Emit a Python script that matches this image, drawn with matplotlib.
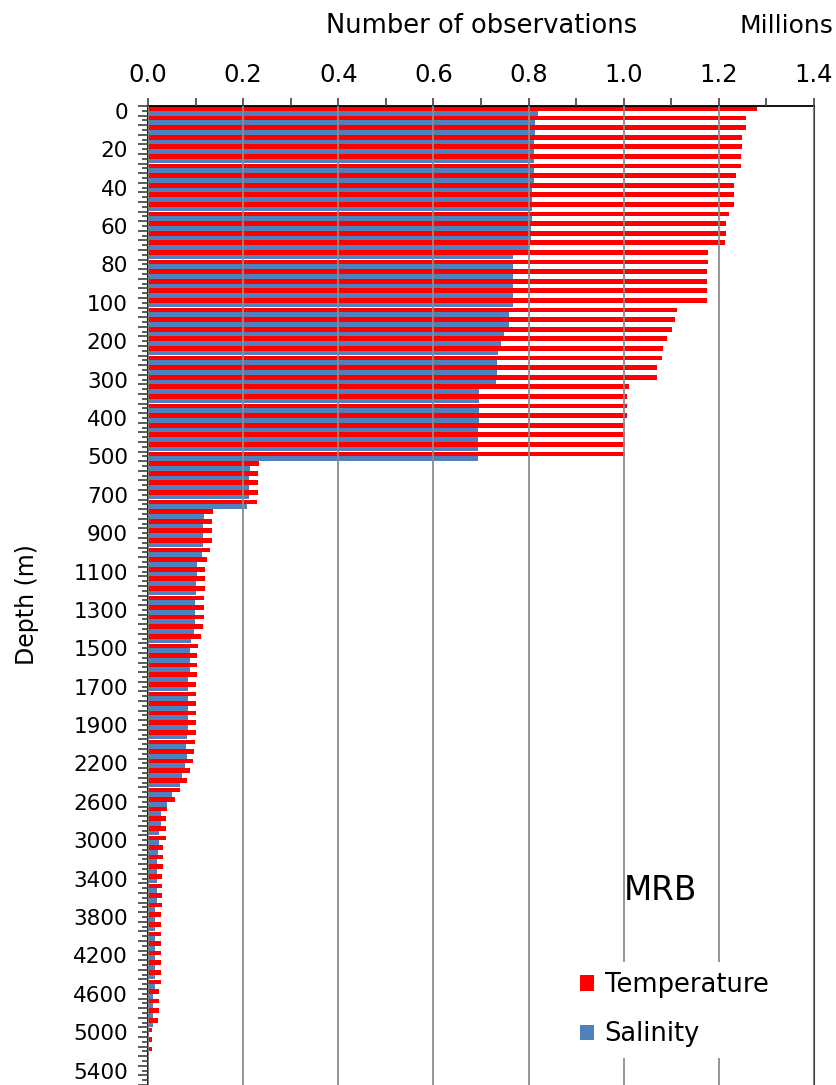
#!/usr/bin/env python

import matplotlib
matplotlib.use('Agg')

import numpy as np
import matplotlib.pyplot as plt
from matplotlib.patches import Patch
from matplotlib.ticker import MultipleLocator, FixedLocator

# standard depth levels (m), one bar pair per level
depths = [0, 5, 10, 15, 20, 25, 30, 35, 40, 45, 50, 55, 60, 65, 70, 75, 80, 85, 90, 95, 100,
          125, 150, 175, 200, 225, 250, 275, 300, 325, 350, 375, 400, 425, 450, 475, 500,
          550, 600, 650, 700, 750, 800, 850, 900, 950, 1000, 1050, 1100, 1150, 1200, 1250,
          1300, 1350, 1400, 1450, 1500, 1550, 1600, 1650, 1700, 1750, 1800, 1850, 1900, 1950, 2000,
          2100, 2200, 2300, 2400, 2500, 2600, 2700, 2800, 2900, 3000, 3100, 3200, 3300, 3400,
          3500, 3600, 3700, 3800, 3900, 4000, 4100, 4200, 4300, 4400, 4500, 4600, 4700, 4800,
          4900, 5000, 5100, 5200, 5300, 5400, 5500]

# number of observations (millions)
temperature = [1.281, 1.257, 1.257, 1.249, 1.249, 1.246, 1.246, 1.235, 1.232, 1.232, 1.232,
               1.222, 1.216, 1.216, 1.213, 1.178, 1.178, 1.175, 1.175, 1.175, 1.175,
               1.111, 1.108, 1.102, 1.092, 1.083, 1.081, 1.070, 1.070, 1.011, 1.006, 1.006,
               1.006, 1.003, 1.003, 1.003, 1.003,
               0.234, 0.232, 0.232, 0.232, 0.229, 0.137, 0.134, 0.134, 0.134, 0.131, 0.123,
               0.120, 0.120, 0.120, 0.118, 0.118, 0.118, 0.115, 0.112, 0.106, 0.104, 0.104,
               0.104, 0.101, 0.101, 0.101, 0.101, 0.101, 0.101, 0.098,
               0.097, 0.094, 0.088, 0.083, 0.067, 0.056, 0.040, 0.037, 0.037, 0.037, 0.032,
               0.032, 0.032, 0.029, 0.029, 0.029, 0.029, 0.027, 0.027, 0.027, 0.027, 0.027,
               0.027, 0.027, 0.027, 0.024, 0.024, 0.024, 0.021, 0.008, 0.008, 0.008,
               0.0, 0.0, 0.0]

salinity = [0.819, 0.814, 0.814, 0.811, 0.811, 0.811, 0.811, 0.811, 0.808, 0.808, 0.808,
            0.808, 0.806, 0.806, 0.803, 0.768, 0.768, 0.768, 0.768, 0.768, 0.768,
            0.758, 0.758, 0.749, 0.741, 0.736, 0.733, 0.733, 0.731, 0.695, 0.695, 0.695,
            0.695, 0.693, 0.693, 0.693, 0.693,
            0.215, 0.212, 0.212, 0.212, 0.209, 0.118, 0.115, 0.115, 0.115, 0.113, 0.104,
            0.104, 0.101, 0.101, 0.099, 0.099, 0.099, 0.096, 0.090, 0.088, 0.088, 0.088,
            0.085, 0.085, 0.085, 0.085, 0.085, 0.085, 0.082, 0.080,
            0.081, 0.078, 0.072, 0.067, 0.051, 0.040, 0.027, 0.027, 0.024, 0.024, 0.021,
            0.018, 0.018, 0.018, 0.018, 0.018, 0.015, 0.015, 0.015, 0.015, 0.015, 0.015,
            0.015, 0.015, 0.015, 0.011, 0.011, 0.011, 0.011, 0.0, 0.0, 0.0,
            0.0, 0.0, 0.0]

label_every = 4


def main():
  plt.rcParams['font.family'] = 'DejaVu Sans'

  fig = plt.figure(figsize=(8.37, 10.85), dpi=100)
  ax = fig.add_axes([148/837, 0.0, 666/837, 979/1085])

  y = np.arange(len(depths))

  # red above blue inside each depth slot
  ax.barh(y - 0.245, temperature, height=0.49, color='#FF0000', label='Temperature', zorder=1)
  ax.barh(y + 0.245, salinity, height=0.49, color='#4F81BD', label='Salinity', zorder=1)

  ax.set_xlim(0, 1.4)
  ax.set_ylim(len(depths) - 0.5, -0.5)

  # x axis on top
  ax.xaxis.tick_top()
  ax.xaxis.set_major_locator(MultipleLocator(0.2))
  ax.xaxis.set_minor_locator(MultipleLocator(0.1))
  ax.xaxis.set_major_formatter(matplotlib.ticker.FormatStrFormatter('%.1f'))
  ax.tick_params(axis='x', which='both', top=True, bottom=False, length=6, width=1.2,
                 color='#404040', labelsize=17.5, pad=8)

  # y axis: a short tick per level, long ticks between levels, label every 4th level
  ax.set_yticks(y)
  ax.set_yticklabels([str(d) if i % label_every == 0 else '' for i, d in enumerate(depths)])
  ax.yaxis.set_minor_locator(FixedLocator(np.arange(-0.5, len(depths), 1.0)))
  ax.tick_params(axis='y', which='major', length=4, width=1.2, color='#404040',
                 labelsize=15.5, pad=10.5)
  ax.tick_params(axis='y', which='minor', length=7, width=1.2, color='#404040')

  # gridlines drawn over the bars
  ax.set_axisbelow(False)
  ax.xaxis.grid(True, which='major', color='#8C8C8C', lw=1.3)
  ax.yaxis.grid(False)

  ax.spines['bottom'].set_visible(False)
  ax.spines['left'].set_color('black')
  ax.spines['left'].set_linewidth(1.3)
  ax.spines['top'].set_color('black')
  ax.spines['top'].set_linewidth(1.3)
  ax.spines['right'].set_color('#404040')
  ax.spines['right'].set_linewidth(1.5)

  fig.text(482/837, 1 - 33/1085, 'Number of observations', ha='center', va='baseline',
           fontsize=18.5)
  fig.text(833/837, 1 - 33/1085, 'Millions', ha='right', va='baseline', fontsize=18)
  fig.text(27/837, 1 - 605/1085, 'Depth (m)', rotation=90, ha='center', va='center',
           fontsize=17)
  fig.text(624/837, 1 - 900/1085, 'MRB', ha='left', va='baseline', fontsize=23.5)

  handles = [Patch(facecolor='#FF0000', label='Temperature'),
             Patch(facecolor='#4F81BD', label='Salinity')]
  ax.legend(handles=handles, loc='upper left', bbox_to_anchor=(570/837, 1 - 962/1085),
            bbox_transform=fig.transFigure, fontsize=18.5, frameon=True,
            facecolor='white', edgecolor='none', framealpha=1, fancybox=False,
            handlelength=0.55, handleheight=0.55, handletextpad=0.4,
            labelspacing=0.9, borderaxespad=0, borderpad=0.4)

  fig.savefig('out.png', dpi=100)


if __name__ == '__main__':
  main()
